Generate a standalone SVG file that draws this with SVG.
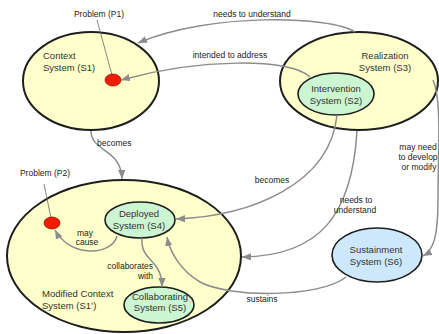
<svg xmlns="http://www.w3.org/2000/svg" width="439" height="334" viewBox="0 0 439 334">
<style>
.bg{fill:#ffffff}
.sys{stroke:#1e1e1e;stroke-width:2}
.yel{fill:#ffffcc}
.grn{fill:#ccf5d2;stroke-width:1.6}
.blu{fill:#cde8fb;stroke-width:1.6}
.dot{fill:#ee1d00;stroke:#a01000;stroke-width:0.8}
.ptr{stroke:#666;stroke-width:0.8;fill:none}
.con{fill:none;stroke:#8c8c8c;stroke-width:1.5;marker-end:url(#arr)}
.nl{font-family:"Liberation Sans",Arial,sans-serif;font-size:9.5px;fill:#333}
.cl{font-family:"Liberation Sans",Arial,sans-serif;font-size:8.5px;fill:#222}
.c{text-anchor:middle}
.r{text-anchor:end}
</style>
<defs>
<marker id="arr" viewBox="0 0 10 8" refX="10" refY="4" markerWidth="9" markerHeight="7.2" orient="auto" markerUnits="userSpaceOnUse">
<path d="M0,0 L10,4 L0,8 z" fill="#8c8c8c"/>
</marker>
</defs>
<rect class="bg" x="0" y="0" width="439" height="334"/>

<g id="S1">
<ellipse class="sys yel" cx="91" cy="81" rx="68" ry="49"/>
<text class="nl" x="43" y="59">Context</text>
<text class="nl" x="43" y="71">System (S1)</text>
</g>

<g id="S3">
<ellipse class="sys yel" cx="359" cy="81" rx="79" ry="49"/>
<text class="nl c" x="385" y="59">Realization</text>
<text class="nl c" x="385" y="71">System (S3)</text>
</g>

<g id="S2">
<ellipse class="sys grn" cx="336" cy="94" rx="38" ry="21"/>
<text class="nl c" x="336" y="92">Intervention</text>
<text class="nl c" x="336" y="104">System (S2)</text>
</g>

<g id="S1prime">
<ellipse class="sys yel" cx="124" cy="256" rx="117" ry="76"/>
<text class="nl" x="42" y="297">Modified Context</text>
<text class="nl" x="42" y="309">System (S1’)</text>
</g>

<g id="S4">
<ellipse class="sys grn" cx="140" cy="220" rx="35" ry="18"/>
<text class="nl c" x="139" y="217">Deployed</text>
<text class="nl c" x="139" y="229">System (S4)</text>
</g>

<g id="S5">
<ellipse class="sys grn" cx="159" cy="305" rx="35" ry="18"/>
<text class="nl c" x="160" y="300">Collaborating</text>
<text class="nl c" x="160" y="311">System (S5)</text>
</g>

<g id="S6">
<ellipse class="sys blu" cx="377" cy="255" rx="45" ry="27"/>
<text class="nl c" x="376" y="253">Sustainment</text>
<text class="nl c" x="376" y="265">System (S6)</text>
</g>

<g id="P1">
<line class="ptr" x1="97" y1="20" x2="112" y2="75"/>
<ellipse class="dot" cx="113" cy="80" rx="8" ry="6"/>
<text class="cl c" x="99" y="17">Problem (P1)</text>
</g>

<g id="P2">
<line class="ptr" x1="44" y1="184" x2="51" y2="218"/>
<ellipse class="dot" cx="52" cy="223" rx="8" ry="6"/>
<text class="cl c" x="45" y="176">Problem (P2)</text>
</g>

<g id="connectors">
<path class="con" d="M355,32 C330,16 210,12 138,43"/>
<text class="cl c" x="252" y="17">needs to understand</text>

<path class="con" d="M310,77 C290,58 200,58 121,80"/>
<text class="cl c" x="230" y="58">intended to address</text>

<path class="con" d="M91,131 C91,152 121,148 122,179"/>
<text class="cl" x="97" y="146">becomes</text>

<path class="con" d="M337,115 C330,185 250,216 176,219"/>
<text class="cl c" x="272" y="183">becomes</text>

<path class="con" d="M357,131 C352,215 320,256 242,257"/>
<text class="cl c" x="356" y="203">needs to</text>
<text class="cl c" x="355" y="213">understand</text>

<path class="con" d="M433,80 C442,100 438,150 438,200 C438,235 434,250 423,256"/>
<text class="cl c" x="418" y="150">may need</text>
<text class="cl c" x="418" y="160">to develop</text>
<text class="cl c" x="419" y="170">or modify</text>

<path class="con" d="M346,277 C320,298 230,298 200,282 C180,270 170,252 167,237"/>
<text class="cl c" x="262" y="302">sustains</text>

<path class="con" d="M117,236 C112,256 70,258 55,230"/>
<text class="cl c" x="85" y="236">may</text>
<text class="cl c" x="87" y="245">cause</text>

<path class="con" d="M142,238 C140,262 162,258 162,287"/>
<text class="cl r" x="153" y="269">collaborates</text>
<text class="cl r" x="153" y="279">with</text>
</g>
</svg>
